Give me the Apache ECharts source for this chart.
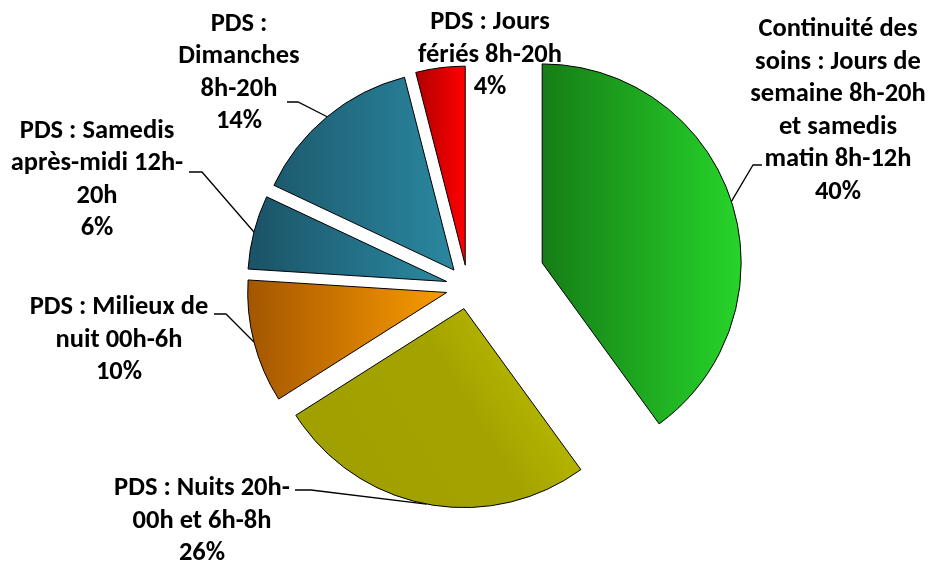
<!DOCTYPE html>
<html>
<head>
<meta charset="utf-8">
<script src="https://cdn.jsdelivr.net/npm/echarts@6/dist/echarts.min.js"></script>
<style>
    html, body { margin: 0; padding: 0; background: #fff; }
    #chart { width: 931px; height: 562px; }
</style>
</head>
<body>
<div id="chart"></div>
<script>
// slices, clockwise from 12 o'clock
var categories = [
    "Continuité des\nsoins : Jours de\nsemaine 8h-20h\net samedis\nmatin 8h-12h",
    "PDS : Nuits 20h-\n00h et 6h-8h",
    "PDS : Milieux de\nnuit 00h-6h",
    "PDS : Samedis\naprès-midi 12h-\n20h",
    "PDS :\nDimanches\n8h-20h",
    "PDS : Jours\nfériés 8h-20h"
];
var values = [40, 26, 10, 6, 14, 4];

// [left colour, right colour] of each slice gradient
var sliceColors = [
    ["#167d16", "#27d42a"],
    ["#a0a000", "#c8c800"],
    ["#a35600", "#fb9b00"],
    ["#1b5266", "#2a8aa2"],
    ["#1d5a6e", "#2a88a0"],
    ["#b00000", "#ff0000"]
];

// explode distance of each slice (px)
var explode = [78, 22, 22, 22, 22, 22];
var pieCenter = [468, 287];
var pieRadius = 199;

// label block centres and leader elbows (layout only)
var labelPos = [[838, 111], [202, 521], [119, 340], [97, 180], [239, 73], [490, 55]];
var leaderPts = [
    [[753, 165], [762, 165]],
    [[311, 490], [295, 490]],
    [[226, 314], [214, 314]],
    [[202, 172], [189, 172]],
    [[298, 102], [287, 102]],
    null
];

var chartDom = document.getElementById('chart');
var myChart = echarts.init(chartDom, null, { renderer: 'canvas' });

function gradient(i) {
    var c = sliceColors[i];
    if (i === 1) {
        return new echarts.graphic.LinearGradient(1, 0, 0.2, 0.7, [
            { offset: 0, color: '#c9c900' },
            { offset: 0.55, color: '#a3a300' },
            { offset: 1, color: '#a0a000' }
        ]);
    }
    return new echarts.graphic.LinearGradient(0, 0, 1, 0, [
        { offset: 0, color: c[0] },
        { offset: 1, color: c[1] }
    ]);
}

// centre of the pie for slice i once pulled out along its bisector
function explodedCenter(i) {
    var total = 0, before = 0;
    for (var k = 0; k < values.length; k++) {
        total += values[k];
        if (k < i) before += values[k];
    }
    var mid = (before + values[i] / 2) / total * Math.PI * 2;
    return [pieCenter[0] + explode[i] * Math.sin(mid), pieCenter[1] - explode[i] * Math.cos(mid)];
}

// one pie series per slice: all values kept so angles match, only slice i painted
function buildSeries(i) {
    var data = [];
    for (var k = 0; k < values.length; k++) {
        if (k === i) {
            data.push({
                name: categories[k],
                value: values[k],
                itemStyle: { color: gradient(k), borderColor: '#000', borderWidth: 1 },
                labelLine: { show: leaderPts[k] !== null }
            });
        } else {
            data.push({
                name: categories[k],
                value: values[k],
                itemStyle: { color: 'rgba(0,0,0,0)', borderWidth: 0 },
                label: { show: false },
                labelLine: { show: false }
            });
        }
    }
    return {
        type: 'pie',
        center: explodedCenter(i),
        radius: pieRadius,
        startAngle: 90,
        clockwise: true,
        silent: true,
        animation: false,
        percentPrecision: 0,
        emphasis: { disabled: true },
        label: {
            show: true,
            formatter: '{b}\n{d}%',
            color: '#000',
            fontFamily: 'Carlito, Lato, sans-serif',
            fontWeight: 'bold',
            fontSize: 26.5,
            lineHeight: 32.5,
            align: 'center',
            overflow: 'none'
        },
        labelLine: {
            show: true,
            lineStyle: { color: '#000', width: 1.3 }
        },
        labelLayout: function(params) {
            var res = {
                x: labelPos[i][0],
                y: labelPos[i][1],
                align: 'center',
                verticalAlign: 'middle'
            };
            if (leaderPts[i] && params.labelLinePoints) {
                res.labelLinePoints = [params.labelLinePoints[0], leaderPts[i][0], leaderPts[i][1]];
            }
            return res;
        },
        data: data
    };
}

var series = [];
for (var s = 0; s < values.length; s++) {
    series.push(buildSeries(s));
}

myChart.setOption({
    backgroundColor: '#ffffff',
    series: series
});
</script>
</body>
</html>
